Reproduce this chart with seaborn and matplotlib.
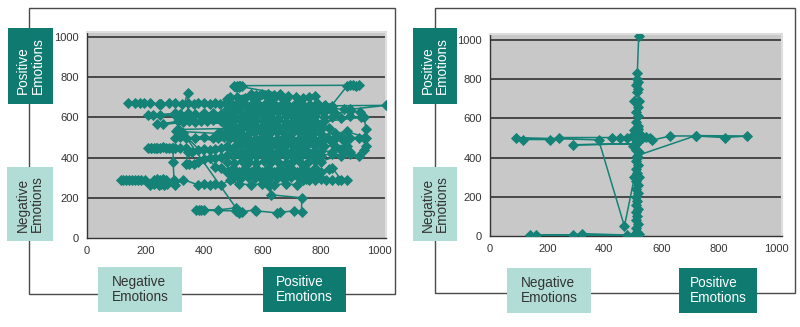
import matplotlib
matplotlib.use("Agg")
import matplotlib.pyplot as plt
import seaborn as sns
from matplotlib.patches import Rectangle

# ---------------- data ----------------
left_x = [
    140, 165, 180, 195, 215, 245, 250, 255, 280, 300, 325, 345, 365, 380, 400, 420, 440, 455, 475, 495,
    515, 540, 565, 590, 615, 640, 665, 690, 715, 740, 765, 790, 815, 840,
    1025, 900, 935, 950, 955, 950, 955, 950, 930,
    900, 870, 840, 800, 780, 760, 740, 720, 700, 680, 660, 640, 620, 600, 580, 560, 540, 520, 500, 480,
    460, 440, 420, 400,
    380, 365, 350, 340, 345, 340, 320, 300, 290, 270, 250, 240, 230, 220, 210,
    220, 235, 260, 280, 295, 295, 298,
    270, 260, 250, 240, 230, 200, 185, 175, 165, 155, 145, 135, 125, 115,
    215, 230, 245, 255, 265, 275, 300, 330, 380, 400, 420, 440, 460, 490, 520, 560, 600, 640, 680, 720,
    740, 760, 780, 800, 820, 840, 860, 890, 870,
    840, 830, 800, 780, 760, 740, 720, 700, 680, 660, 640, 620, 600, 580, 560, 540, 520, 500, 480, 460, 440,
    330, 510, 450, 400, 385, 375, 390, 510, 520, 530, 575, 580, 650, 660, 710, 735, 735, 630, 625, 620,
    500, 525, 550, 575, 600, 625, 650, 675, 700, 725, 750, 775, 800,
    790, 765, 740, 715, 690, 665, 640, 615, 590, 565, 540, 515, 490,
    480, 505, 530, 555, 580, 605, 630, 655, 680, 705, 730, 755, 780, 800,
    900, 870, 840, 800, 775, 750, 725, 700, 675, 650, 625, 600, 575, 550, 525, 500,
    360, 380, 400, 420, 440, 460, 480, 505, 530, 555, 580, 605, 630, 655, 680, 705, 730, 755, 780, 810, 850, 890,
    880, 840, 800, 775, 750, 725, 700, 675, 650, 625, 600, 575, 550, 525,
    300, 320, 340, 370, 400, 430, 450, 470, 490, 510, 530, 550, 575, 600, 625, 650, 675, 700, 725, 750,
    775, 800, 825, 850, 875, 900, 930, 955,
    890, 850, 800, 775, 750, 725, 700, 675, 650, 625, 600, 575, 550, 525, 500, 480, 460, 450, 320, 305, 310,
    480, 505, 530, 555, 580, 605, 630, 655, 680, 705, 730, 755, 780, 800, 830,
    800, 775, 750, 725, 700, 675, 650, 625, 600, 575, 550, 525, 500, 470, 330, 260, 240,
    310, 330, 350, 370, 390, 410, 430, 460, 480, 505, 530, 555, 580, 605, 630, 655, 680, 705, 730, 755, 780, 810,
    940, 900, 870, 840, 810, 780, 755, 730, 705, 680, 655, 630, 605, 580, 555, 530, 505, 480, 450, 420,
    390, 360, 330, 300, 250, 225, 210,
    300, 320, 345, 345, 370, 400, 430, 460, 480, 505, 530, 555, 580, 605, 630, 655, 680, 705, 730, 755,
    780, 810, 850, 900,
    880, 840, 800, 775, 750, 725, 700, 675, 650, 625, 600, 575, 550, 525, 500, 480,
    480, 505, 530, 555, 580, 605, 630, 655, 680, 705, 730, 755, 780, 810,
    780, 760, 740, 715, 690, 665, 640, 615, 590, 565, 540, 515, 490,
    560, 580, 600, 620, 640, 660, 520, 505, 510, 515, 520, 525, 530, 900,
    930, 920, 910, 890, 830,
]
left_y = [
    670, 670, 670, 670, 670, 668, 668, 668, 670, 670, 668, 670, 668, 670, 670, 668, 670, 668, 670, 665,
    665, 668, 665, 660, 662, 665, 660, 662, 665, 660, 662, 665, 660, 658,
    660, 640, 625, 600, 540, 500, 460, 440, 410,
    420, 410, 420, 410, 415, 410, 420, 410, 415, 410, 420, 415, 410, 420, 410, 415, 410, 420, 410, 415,
    405, 400, 400, 395,
    380, 370, 370, 370, 430, 450, 450, 450, 450, 450, 450, 448, 450, 450, 450,
    448, 450, 452, 450, 450, 380, 290,
    290, 292, 290, 292, 290, 290, 290, 290, 290, 290, 290, 290, 290, 290,
    265, 270, 265, 270, 265, 270, 265, 290, 265, 268, 265, 270, 265, 290, 270, 265, 270, 265, 270, 265,
    290, 288, 290, 292, 290, 290, 288, 290, 290,
    350, 345, 330, 350, 330, 350, 330, 350, 330, 350, 330, 350, 330, 350, 330, 350, 330, 350, 330, 350, 355,
    520, 150, 140, 140, 140, 140, 138, 135, 125, 130, 140, 135, 125, 128, 135, 130, 200, 215, 260, 290,
    300, 295, 305, 300, 295, 305, 300, 295, 305, 300, 295, 305, 300,
    320, 325, 318, 322, 325, 318, 320, 325, 318, 322, 325, 318, 320,
    380, 375, 385, 380, 372, 385, 378, 380, 375, 385, 380, 372, 385, 380,
    430, 440, 430, 435, 428, 440, 432, 430, 438, 428, 440, 432, 430, 438, 428, 440,
    430, 440, 445, 440, 445, 448, 460, 455, 465, 460, 455, 465, 460, 455, 465, 460, 455, 465, 460, 458, 460, 460,
    485, 480, 478, 485, 480, 475, 485, 480, 478, 485, 480, 475, 485, 480,
    500, 505, 500, 500, 505, 500, 500, 505, 500, 495, 505, 500, 495, 505, 500, 495, 505, 500, 495, 505,
    500, 495, 500, 500, 505, 500, 500, 500,
    530, 520, 515, 522, 518, 525, 515, 520, 525, 515, 520, 525, 518, 522, 515, 520, 520, 520, 530, 530, 540,
    545, 540, 548, 542, 545, 540, 548, 542, 545, 540, 548, 542, 545, 540, 545,
    560, 565, 558, 562, 565, 558, 560, 565, 558, 562, 565, 558, 560, 570, 575, 565, 565,
    580, 585, 580, 578, 582, 580, 585, 580, 582, 585, 578, 582, 585, 578, 582, 585, 578, 582, 585, 578, 582, 580,
    600, 605, 598, 602, 600, 605, 598, 602, 600, 605, 598, 602, 600, 605, 598, 602, 600, 605, 600, 600,
    605, 600, 600, 610, 610, 610, 610,
    620, 615, 720, 620, 615, 620, 622, 615, 620, 625, 618, 622, 625, 618, 622, 625, 618, 622, 625, 618,
    622, 625, 620, 630,
    640, 645, 638, 642, 645, 638, 642, 645, 638, 642, 645, 638, 642, 645, 638, 640,
    690, 655, 680, 650, 695, 660, 685, 650, 690, 655, 680, 650, 660, 655,
    705, 700, 695, 700, 705, 700, 695, 700, 705, 700, 695, 700, 700,
    715, 712, 718, 715, 712, 718, 755, 755, 750, 758, 752, 755, 758, 760,
    760, 755, 760, 755, 645,
]

right_x = [
    520, 515, 515, 518, 512, 516, 515, 505, 520, 518, 512, 517, 512, 516, 518, 512, 516, 510, 520, 512,
    505, 525, 515, 500, 530, 510, 520, 495, 515,
    480, 455, 425, 240, 210, 115, 90, 380, 470, 505, 510, 290, 510,
    530, 545, 560, 565, 630, 720, 820, 900, 720, 515,
    515, 512, 518, 510, 515, 520, 512, 516, 510, 518, 512, 515, 510, 518, 512, 515, 510, 518, 512, 515,
    510, 505,
    480, 320, 290, 160, 140, 510, 520, 515,
]
right_y = [
    1020, 830, 800, 785, 770, 750, 735, 690, 690, 660, 630, 610, 580, 560, 545, 530, 520, 512, 505, 500,
    540, 520, 480, 460, 500, 440, 430, 510, 490,
    500, 502, 502, 502, 492, 492, 502, 490, 50, 300, 470, 465, 470,
    498, 505, 500, 488, 510, 510, 502, 510, 512, 410,
    400, 380, 360, 340, 320, 300, 280, 260, 240, 220, 200, 180, 160, 140, 120, 100, 80, 60, 40, 20,
    10, 5,
    5, 12, 5, 5, 5, 3, 8, 0,
]

ticks = [0, 200, 400, 600, 800, 1000]
pos_label = "Positive\nEmotions"
neg_label = "Negative\nEmotions"

# ---------------- styling ----------------
TEAL = "#148277"
DARK_BOX = "#0e7a70"
LIGHT_BOX = "#b2ddd6"
PLOT_BG = "#c8c8c8"
TXT = "#333333"

sns.set_theme(style="white")
plt.rcParams["font.family"] = ["Liberation Sans", "DejaVu Sans"]

W, H = 800, 327
fig = plt.figure(figsize=(8, 3.27), dpi=100)
fig.patch.set_facecolor("white")


def rect(x0, y0, x1, y1):
    return [x0 / W, 1 - y1 / H, (x1 - x0) / W, (y1 - y0) / H]


def frame(x0, y0, x1, y1):
    fig.add_artist(Rectangle((x0 / W, 1 - y1 / H), (x1 - x0) / W, (y1 - y0) / H,
                             transform=fig.transFigure, fill=False,
                             ec="#4a4a4a", lw=1.0, zorder=0))


def box(x0, y0, x1, y1, text, dark, vertical):
    fig.add_artist(Rectangle((x0 / W, 1 - y1 / H), (x1 - x0) / W, (y1 - y0) / H,
                             transform=fig.transFigure, fc=DARK_BOX if dark else LIGHT_BOX,
                             ec="none", zorder=5))
    fig.text((x0 + x1) / 2 / W, 1 - (y0 + y1) / 2 / H, text,
             rotation=90 if vertical else 0, ha="center", va="center",
             multialignment="left", linespacing=1.05, fontsize=9.8,
             color="white" if dark else TXT, zorder=6)


def panel(axrect, xs, ys, xmax, ymax):
    ax = fig.add_axes(axrect)
    ax.set_facecolor(PLOT_BG)
    for t in ticks[1:]:
        ax.axhline(t, color="#333333", lw=1.2, zorder=1)
    sns.lineplot(x=xs, y=ys, sort=False, estimator=None, ax=ax, color=TEAL,
                 marker="D", markersize=5.2, markeredgecolor=TEAL, markeredgewidth=0.6,
                 linewidth=1.1, zorder=3)
    ax.set_xlim(0, xmax)
    ax.set_ylim(0, ymax)
    ax.set_xticks(ticks)
    ax.set_yticks(ticks)
    ax.set_xticklabels([str(t) for t in ticks])
    ax.set_yticklabels([str(t) for t in ticks])
    ax.tick_params(direction="out", length=3, width=0.8, color="#333333",
                   labelsize=8, labelcolor=TXT, pad=3)
    for s in ("left", "bottom"):
        ax.spines[s].set_color("#333333")
        ax.spines[s].set_linewidth(1.0)
    for s in ("top", "right"):
        ax.spines[s].set_color("#dedede")
        ax.spines[s].set_linewidth(1.5)
    ax.set_xlabel("")
    ax.set_ylabel("")
    return ax


# left panel
frame(29, 8, 395, 294)
panel(rect(87, 32, 386, 238), left_x, left_y, 1024, 1025)
box(8, 28, 53, 104, pos_label, True, True)
box(7, 167, 53, 241, neg_label, False, True)
box(98, 267, 182, 312, neg_label, False, False)
box(263, 267, 346, 312, pos_label, True, False)

# right panel
frame(435, 8, 795, 293)
panel(rect(490, 34, 782, 236), right_x, right_y, 1021, 1030)
box(413, 28, 457, 104, pos_label, True, True)
box(413, 167, 457, 241, neg_label, False, True)
box(507, 268, 591, 313, neg_label, False, False)
box(679, 268, 757, 313, pos_label, True, False)

fig.savefig("out.png", dpi=100, facecolor="white")
